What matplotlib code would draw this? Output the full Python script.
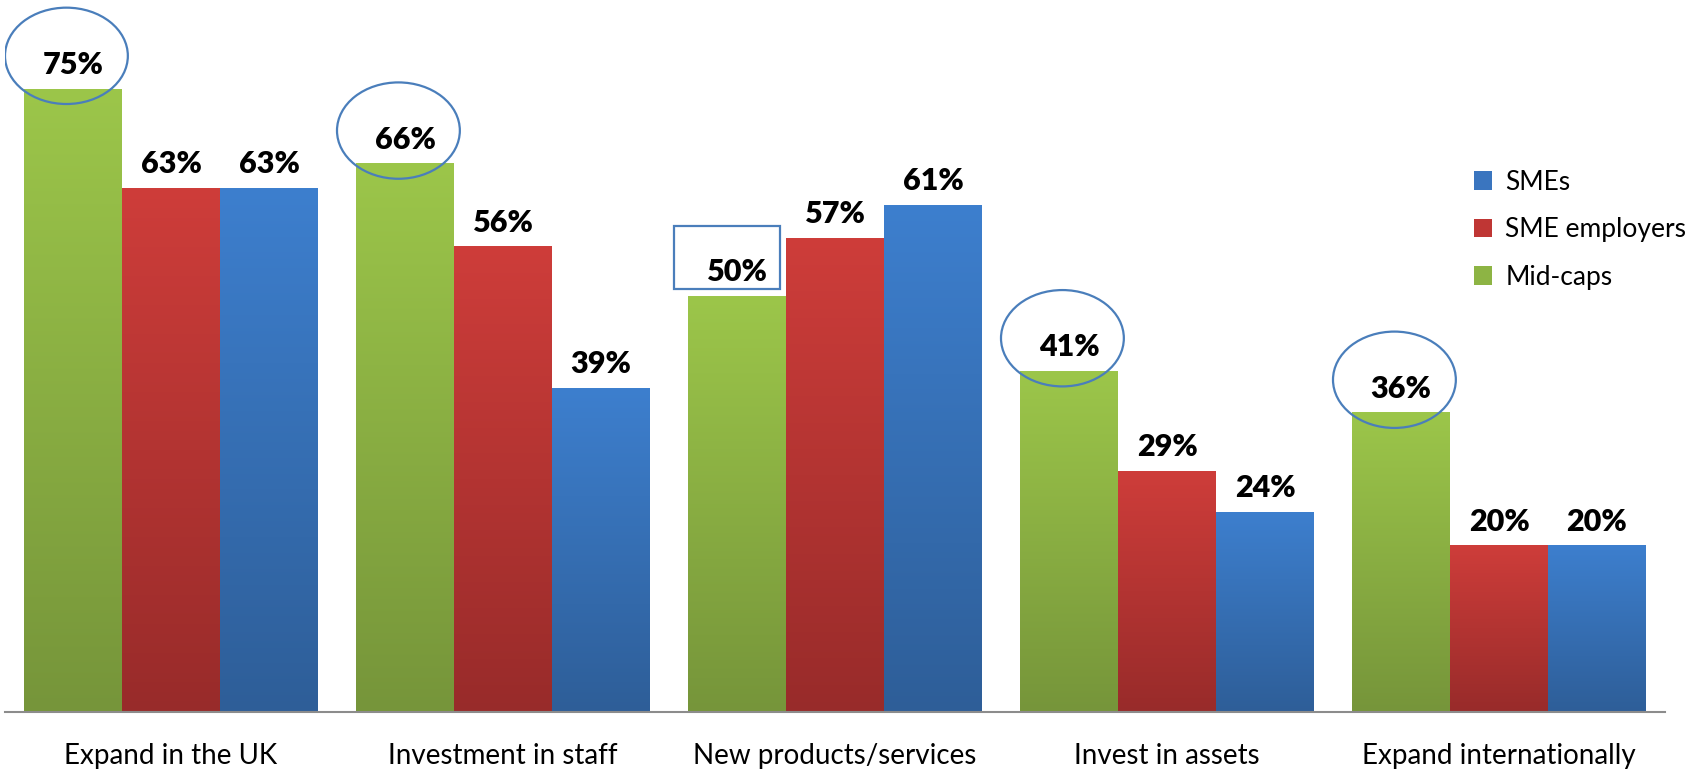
import numpy as np
import matplotlib.pyplot as plt
from matplotlib.colors import LinearSegmentedColormap
from matplotlib.patches import Ellipse, Rectangle, Patch

plt.rcParams['font.family'] = ['Lato', 'DejaVu Sans']

categories = ['Expand in the UK', 'Investment in staff', 'New products/services',
              'Invest in assets', 'Expand internationally']
mid_caps = [75, 66, 50, 41, 36]
sme_employers = [63, 56, 57, 29, 20]
smes = [63, 39, 61, 24, 20]

# which Mid-caps values get an oval, which one gets a box
circled = [0, 1, 3, 4]
boxed = [2]

series = [
    ('Mid-caps', mid_caps, ('#9CC64A', '#76953A')),
    ('SME employers', sme_employers, ('#CE3D3A', '#982B2A')),
    ('SMEs', smes, ('#3D7FCE', '#2E5E98')),
]

fig = plt.figure(figsize=(16.86, 7.74), dpi=100)
ax = fig.add_axes([5 / 1686, 62 / 774, 1660 / 1686, 706 / 774])

width = 0.295
x = np.arange(len(categories)) + 0.5
grad = np.linspace(1, 0, 256).reshape(-1, 1)

for i, (name, vals, (top, bottom)) in enumerate(series):
    cmap = LinearSegmentedColormap.from_list(name, [bottom, top])
    xs = x + (i - 1) * width
    bars = ax.bar(xs, vals, width, color='none', edgecolor='none')
    for b, v in zip(bars, vals):
        x0 = b.get_x()
        ax.imshow(grad, cmap=cmap, aspect='auto', vmin=0, vmax=1,
                  extent=(x0, x0 + width, 0, v), zorder=2)
        ax.annotate(f'{v}%', (x0 + width / 2, v), xytext=(0, 11),
                    textcoords='offset points', ha='center', va='baseline',
                    fontsize=22, fontweight='heavy', color='black', zorder=5)

ax.set_xlim(0, 5)
ax.set_ylim(0, 85)

# highlight marks around the Mid-caps labels
for j in circled:
    cx = x[j] - width - 0.02
    ax.add_patch(Ellipse((cx, mid_caps[j] + 4.0), 0.37, 11.6, fill=False,
                         edgecolor='#4A7EBB', lw=1.6, zorder=6))
for j in boxed:
    ax.add_patch(Rectangle((x[j] - width - 0.19, mid_caps[j] + 0.9), 0.32, 7.6,
                           fill=False, edgecolor='#4A7EBB', lw=1.6, zorder=6))

ax.set_xticks(x)
ax.set_xticklabels(categories, fontsize=20)
ax.tick_params(axis='x', length=0, pad=22)
ax.set_yticks([])
for s in ['top', 'right', 'left']:
    ax.spines[s].set_visible(False)
ax.spines['bottom'].set_color('#8C8C8C')
ax.spines['bottom'].set_linewidth(1.5)

handles = [Patch(facecolor='#3A75BF', label='SMEs'),
           Patch(facecolor='#BF3634', label='SME employers'),
           Patch(facecolor='#8DB444', label='Mid-caps')]
fig.legend(handles=handles, loc='upper left', bbox_to_anchor=(1450 / 1686, 1 - 146 / 774),
           frameon=False, fontsize=19, handlelength=0.7, handleheight=0.7,
           handletextpad=0.5, labelspacing=0.85)

fig.savefig('out.png', dpi=100)
